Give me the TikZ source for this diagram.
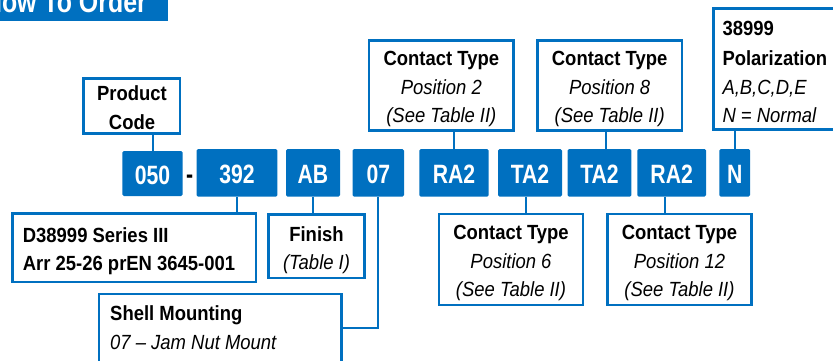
\documentclass[tikz,border=0pt]{standalone}
\usepackage{fontspec}
\setmainfont{Liberation Sans}
\newfontfamily\lblfont[FakeStretch=0.9]{Liberation Sans}
\newfontfamily\codefont[FakeStretch=0.8]{Liberation Sans}
\newfontfamily\titlefont[FakeStretch=0.83]{Liberation Sans}
\definecolor{brandblue}{RGB}{0,112,192}
\begin{document}
\begin{tikzpicture}[x=1pt,y=-1pt,
  codebox/.style={fill=brandblue, draw=none, rounded corners=1.5pt, text=white,
    font=\codefont\bfseries\fontsize{26.5}{30}\selectfont, inner sep=0pt,
    text height=22pt, text depth=0pt},
  lblbox/.style={draw=brandblue, line width=2.7pt, fill=white, inner sep=0pt},
  conn/.style={draw=brandblue, line width=2pt},
  headline/.style={font=\lblfont\bfseries\fontsize{20.5}{24}\selectfont, inner sep=0pt, anchor=base},
  subline/.style={font=\lblfont\itshape\fontsize{20.5}{24}\selectfont, inner sep=0pt, anchor=base},
]
\useasboundingbox (0,0) rectangle (833,360);
\clip (0,0) rectangle (833,360);

% title banner
\node[fill=brandblue, inner sep=0pt, minimum width=178pt, minimum height=40.7pt] (banner) at (79,0.35) {};
\node[font=\titlefont\bfseries\fontsize{30}{34}\selectfont, text=white, inner sep=0pt, anchor=base east] (title) at (147,12) {How To Order};

% code boxes
\node[codebox, minimum width=60.4pt, minimum height=45pt] (c050) at (152.5,173.5) {050};
\node[font=\codefont\bfseries\fontsize{26.5}{30}\selectfont, inner sep=0pt, anchor=base] (dash) at (189.7,183) {-};
\node[codebox, minimum width=80.6pt, minimum height=47.7pt] (c392) at (237,172.85) {392};
\node[codebox, minimum width=54pt, minimum height=47.7pt] (cAB) at (313,172.85) {AB};
\node[codebox, minimum width=51.3pt, minimum height=47.7pt] (c07) at (378.35,172.85) {07};
\node[codebox, minimum width=69.4pt, minimum height=47.7pt] (cRAa) at (454,172.85) {RA2};
\node[codebox, minimum width=64pt, minimum height=47.7pt] (cTAa) at (530,172.85) {TA2};
\node[codebox, minimum width=63.6pt, minimum height=47.7pt] (cTAb) at (599.5,172.85) {TA2};
\node[codebox, minimum width=68.7pt, minimum height=47.7pt] (cRAb) at (671.65,172.85) {RA2};
\node[codebox, minimum width=30.7pt, minimum height=47.7pt] (cN) at (734.65,172.85) {N};

% label boxes
\node[lblbox, minimum width=96.3pt, minimum height=55pt] (pc) at (131.8,105.85) {};
\node[lblbox, minimum width=144.6pt, minimum height=90pt] (ct2) at (441.35,85.35) {};
\node[lblbox, minimum width=144.6pt, minimum height=90pt] (ct8) at (609.65,85.35) {};
\node[lblbox, minimum width=145pt, minimum height=121.3pt] (pol) at (785.85,69) {};
\node[lblbox, minimum width=243.6pt, minimum height=68.3pt] (ser) at (134.15,247.8) {};
\node[lblbox, minimum width=95.7pt, minimum height=63.3pt] (fin) at (316.5,246.3) {};
\node[lblbox, minimum width=242.3pt, minimum height=90pt] (shm) at (220.2,339) {};
\node[lblbox, minimum width=143.9pt, minimum height=90.9pt] (ct6) at (511,259.5) {};
\node[lblbox, minimum width=144.3pt, minimum height=90.9pt] (ct12) at (679.5,259.5) {};

% connectors
\draw[conn] (c050.north) -- (c050.north |- pc.south);
\draw[conn] (cRAa.north) -- (cRAa.north |- ct2.south);
\draw[conn] ([xshift=6.2pt]cTAb.north) -- ([xshift=6.2pt]cTAb.north |- ct8.south);
\draw[conn] (cN.north) -- (cN.north |- pol.south);
\draw[conn] (c392.south) -- (c392.south |- ser.north);
\draw[conn] (cAB.south) -- (cAB.south |- fin.north);
\draw[conn] (c07.south) |- ([yshift=11.3pt]shm.east);
\draw[conn] ([xshift=-4pt]cTAa.south) -- ([xshift=-4pt]cTAa.south |- ct6.north);
\draw[conn] ([xshift=-6.3pt]cRAb.south) -- ([xshift=-6.3pt]cRAb.south |- ct12.north);

% texts
\node[headline] (pcA) at (132,100.5) {Product};
\node[headline] (pcB) at (132,129.3) {Code};

\node[headline] (ct2A) at (441.35,65.5) {Contact Type};
\node[subline] (ct2B) at (441.35,94.5) {Position 2};
\node[subline] (ct2C) at (441.35,122.5) {(See Table II)};

\node[headline] (ct8A) at (609.65,65.5) {Contact Type};
\node[subline] (ct8B) at (609.65,94.5) {Position 8};
\node[subline] (ct8C) at (609.65,122.5) {(See Table II)};

\node[headline, anchor=base west] (polA) at (722.3,35.5) {38999};
\node[headline, anchor=base west] (polB) at (722.3,65.5) {Polarization};
\node[subline, anchor=base west] (polC) at (722.3,94.5) {A,B,C,D,E};
\node[subline, anchor=base west] (polD) at (722.3,122.5) {N = Normal};

\node[headline, anchor=base west] (serA) at (22.7,242.3) {D38999 Series III};
\node[headline, anchor=base west] (serB) at (22.7,270.7) {Arr 25-26 prEN 3645-001};

\node[headline] (finA) at (316.5,241) {Finish};
\node[subline] (finB) at (316.5,269.5) {(Table I)};

\node[headline, anchor=base west] (shmA) at (110,320.5) {Shell Mounting};
\node[subline, anchor=base west] (shmB) at (110,349) {07 – Jam Nut Mount};

\node[headline] (ct6A) at (511,239.5) {Contact Type};
\node[subline] (ct6B) at (511,268) {Position 6};
\node[subline] (ct6C) at (511,296) {(See Table II)};

\node[headline] (ct12A) at (679.5,239.5) {Contact Type};
\node[subline] (ct12B) at (679.5,268) {Position 12};
\node[subline] (ct12C) at (679.5,296) {(See Table II)};
\end{tikzpicture}
\end{document}
